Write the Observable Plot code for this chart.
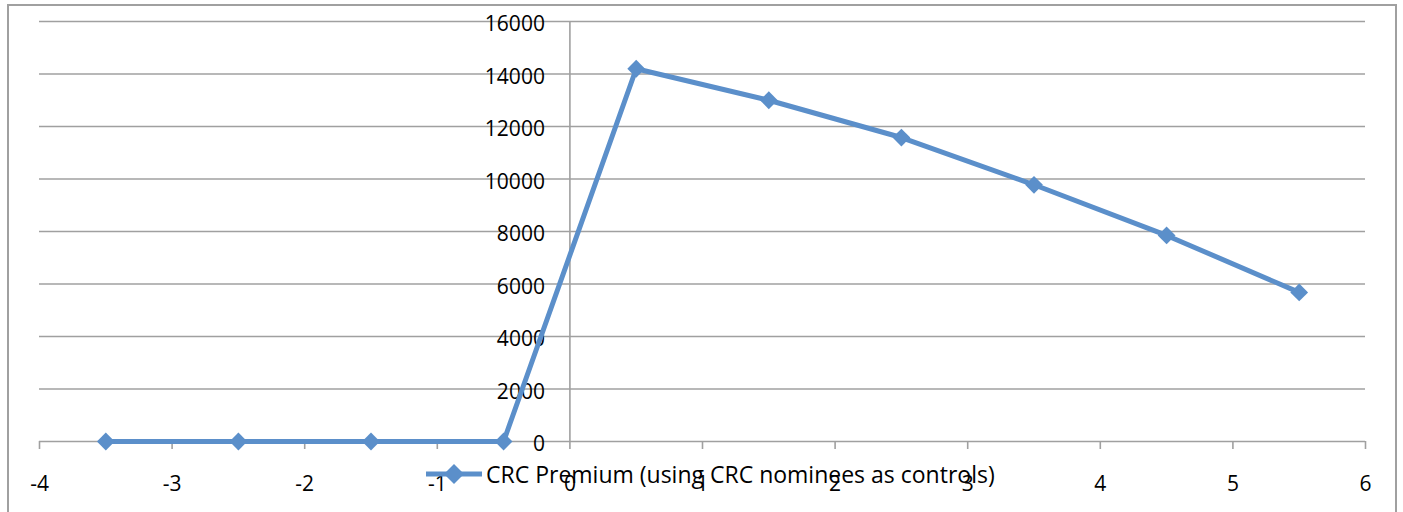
<!DOCTYPE html>
<html>
<head>
<meta charset="utf-8">
<script src="https://cdn.jsdelivr.net/npm/d3@7"></script>
<script src="https://cdn.jsdelivr.net/npm/@observablehq/plot@0.6"></script>
<style>
  html, body { margin: 0; padding: 0; background: #fff; }
  #wrap { position: relative; width: 1403px; height: 512px; overflow: hidden; font-family: "Open Sans", sans-serif; }
  #border { position: absolute; left: 7px; top: 4px; width: 1390px; height: 600px; border: 2px solid #a0a0a0; box-sizing: border-box; pointer-events: none; }
  #chart { position: absolute; left: 0; top: 0; }
  #legend { position: absolute; left: 425px; top: 458px; display: flex; align-items: center; font-size: 23px; color: #000; white-space: nowrap; }
  #legend svg { margin-right: 3px; }
</style>
</head>
<body>
<div id="wrap">
  <div id="border"></div>
  <div id="chart"></div>
  <div id="legend"></div>
</div>
<script>
const seriesName = "CRC Premium (using CRC nominees as controls)";
const xValues = [-3.5, -2.5, -1.5, -0.5, 0.5, 1.5, 2.5, 3.5, 4.5, 5.5];
const premium = [0, 0, 0, 0, 14200, 13000, 11580, 9780, 7850, 5680];
const yTicks = [0, 2000, 4000, 6000, 8000, 10000, 12000, 14000, 16000];
const xTicks = [-4, -3, -2, -1, 0, 1, 2, 3, 4, 5, 6];

const lineColor = "#5b8fca";
const gridColor = "#a0a0a0";

const data = xValues.map((x, i) => ({x, y: premium[i]}));

const chart = Plot.plot({
  width: 1403,
  height: 512,
  marginLeft: 39,
  marginRight: 38,
  marginTop: 21,
  marginBottom: 71,
  x: {domain: [-4, 6]},
  y: {domain: [0, 16000]},
  style: {fontFamily: "'Open Sans', sans-serif", fontSize: "21px", color: "#000", background: "transparent"},
  marks: [
    Plot.ruleY(yTicks, {stroke: gridColor, strokeWidth: 1.6}),
    Plot.ruleX([0], {stroke: gridColor, strokeWidth: 1.6}),
    Plot.axisX({ticks: xTicks, tickSize: 8, tickPadding: 27, tickFormat: d => String(d), stroke: gridColor, strokeWidth: 1.6, fill: "#000", label: null}),
    Plot.axisY({ticks: [], label: null}),
    Plot.text(yTicks, {x: 0, y: d => d, text: d => String(d), dx: -25, dy: 3, textAnchor: "end", fill: "#000"}),
    Plot.line(data, {x: "x", y: "y", stroke: lineColor, strokeWidth: 5, strokeLinejoin: "round"}),
    Plot.dot(data, {x: "x", y: "y", symbol: "diamond2", r: 8, fill: lineColor, stroke: "none"})
  ]
});
document.getElementById("chart").appendChild(chart);

const legend = document.getElementById("legend");
legend.innerHTML = `<svg width="58" height="24"><line x1="1" y1="12" x2="57" y2="12" stroke="${lineColor}" stroke-width="5"/><path d="M29,2 L39,12 L29,22 L19,12 Z" fill="${lineColor}"/></svg><span>${seriesName}</span>`;
</script>
</body>
</html>
